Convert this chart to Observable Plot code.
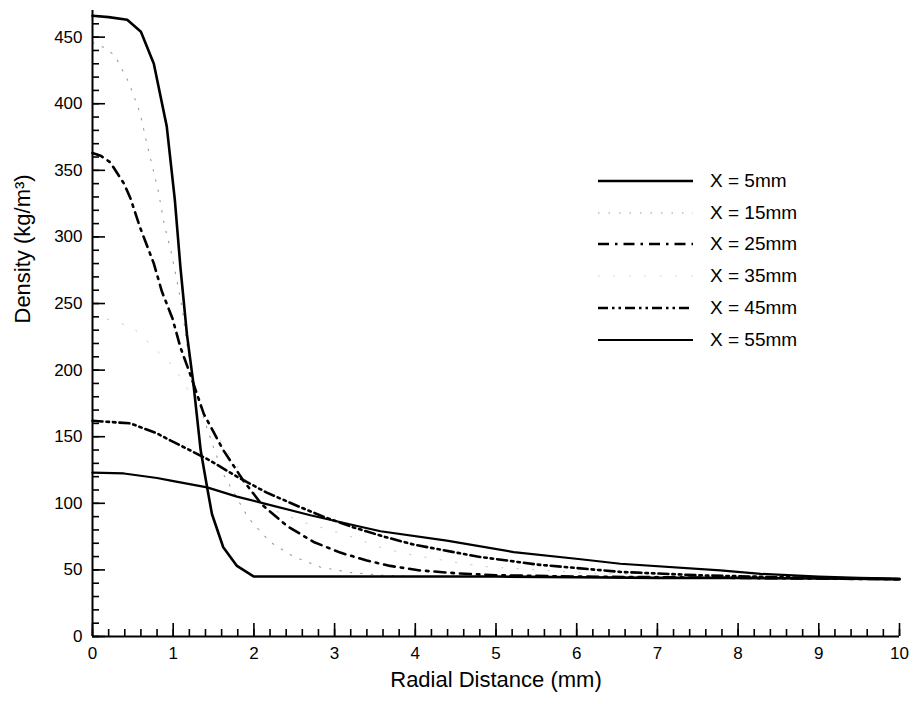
<!DOCTYPE html>
<html><head><meta charset="utf-8">
<script src="https://cdn.jsdelivr.net/npm/d3@7"></script>
<script src="https://cdn.jsdelivr.net/npm/@observablehq/plot@0.6"></script>
<style>
body{margin:0;background:#fff;}
#wrap{position:relative;width:915px;height:704px;font-family:"Liberation Sans",Arial,sans-serif;color:#000;}
</style></head><body><div id="wrap"></div>
<script>
// Series names
const seriesNames = ["X = 5mm", "X = 15mm", "X = 25mm", "X = 35mm", "X = 45mm", "X = 55mm"];

// Radial distance (mm) and density (kg/m^3) for each series
const r5  = [0, 0.2, 0.43, 0.6, 0.76, 0.92, 1.02, 1.09, 1.17, 1.25, 1.34, 1.42, 1.48, 1.62, 1.79, 2.0, 3, 4, 5, 6, 7, 8, 9, 10];
const d5  = [466, 465, 463, 454, 430, 383, 328, 277, 227, 190, 140, 112, 92, 67, 53, 45, 45, 45, 45, 44.5, 44, 44, 43.5, 43];

const r15 = [0, 0.15, 0.28, 0.45, 0.59, 0.67, 0.75, 0.82, 0.89, 0.97, 1.04, 1.11, 1.18, 1.27, 1.4, 1.5, 1.62, 1.93, 2.2, 2.49, 2.83, 3.2, 3.6, 4, 5, 6, 7, 8, 9, 10];
const d15 = [446, 442, 436, 416, 393, 371, 351, 333, 309, 290, 269, 247, 215, 185, 160, 142, 122, 89, 71, 60, 52, 48, 46, 45, 45, 44.5, 44, 44, 43.5, 43];

const r25 = [0, 0.1, 0.22, 0.39, 0.47, 0.59, 0.76, 0.86, 0.99, 1.09, 1.21, 1.38, 1.62, 1.87, 2.1, 2.41, 2.74, 3.07, 3.4, 3.69, 4.06, 4.5, 5, 6, 7, 8, 9, 10];
const d25 = [363, 361, 356, 340, 329, 307, 280, 259, 239, 217, 197, 167, 140, 117, 99, 83, 71, 63, 57, 53, 49.6, 47.5, 46, 45, 44.5, 44, 43.5, 43];

const r35 = [0, 0.5, 1.0, 1.5, 2.0, 2.16, 2.6, 3.16, 3.61, 3.98, 4.22, 4.56, 4.93, 5.26, 6, 7, 8, 9, 10];
const d35 = [242, 232, 203, 155, 108, 97, 86, 76, 66, 61, 58.6, 55, 52, 51, 48, 46, 44.5, 43.5, 43];

const r45 = [0, 0.47, 0.8, 0.97, 1.17, 1.46, 1.79, 2.16, 2.54, 2.86, 3.23, 3.61, 3.98, 4.77, 5.51, 6.54, 7.5, 8.5, 9.5, 10];
const d45 = [162, 160, 152.5, 147, 141, 132, 120, 108, 98, 90, 82, 75, 69, 60, 54, 48.5, 46, 44.5, 43.5, 43];

const r55 = [0, 0.39, 0.8, 0.97, 1.42, 1.79, 2.12, 2.7, 3.28, 3.57, 4.39, 5.22, 6.05, 6.54, 7.78, 8.28, 9, 9.5, 10];
const d55 = [123, 122.4, 119, 117, 112, 105, 100, 91, 83, 79, 72, 63.4, 58, 54.6, 49.6, 47, 45, 44, 43.5];

// Tick values
const xTicks = [0, 1, 2, 3, 4, 5, 6, 7, 8, 9, 10];
const yTicks = [0, 50, 100, 150, 200, 250, 300, 350, 400, 450];
const xMinor = d3.range(0, 10.001, 0.2);
const yMinor = d3.range(0, 461, 10);

// Styles (separate from data)
const styles = [
  {stroke: "#000", width: 2.6, dash: null},
  {stroke: "#9a9a9a", width: 1.1, dash: "1.5,9"},
  {stroke: "#000", width: 2.6, dash: "11,6,2.5,6"},
  {stroke: "#c4c4c4", width: 0.9, dash: "1.5,14"},
  {stroke: "#000", width: 2.6, dash: "10,4,2.5,4,2.5,4"},
  {stroke: "#000", width: 2.2, dash: null}
];

const rs = [r5, r15, r25, r35, r45, r55];
const ds = [d5, d15, d25, d35, d45, d55];
const rows = [];
seriesNames.forEach((name, i) => rs[i].forEach((r, j) => rows.push({series: name, r, d: ds[i][j]})));

const drawOrder = [3, 1, 2, 4, 5, 0];

const chart = Plot.plot({
  width: 915, height: 704,
  marginLeft: 92, marginRight: 16, marginTop: 10, marginBottom: 68,
  style: {fontFamily: "'Liberation Sans', Arial, sans-serif", fontSize: "17px", color: "#000", background: "#fff"},
  x: {domain: [0, 10], label: null},
  y: {domain: [0, 470], label: null},
  marks: [
    ...drawOrder.map(i => Plot.line(rows.filter(d => d.series === seriesNames[i]), {
      x: "r", y: "d", stroke: styles[i].stroke, strokeWidth: styles[i].width,
      strokeDasharray: styles[i].dash, strokeLinejoin: "round"
    })),
    Plot.axisX(xMinor, {tickSize: -7, tickFormat: () => "", strokeWidth: 1.6, label: null}),
    Plot.axisX(xTicks, {tickSize: -13, tickFormat: () => "", strokeWidth: 1.6, label: null}),
    Plot.axisX(xTicks, {tickSize: 0, tickPadding: 10, fontSize: 17, label: null}),
    Plot.axisY(yMinor, {tickSize: -7, tickFormat: () => "", strokeWidth: 1.6, label: null}),
    Plot.axisY(yTicks, {tickSize: -13, tickFormat: () => "", strokeWidth: 1.6, label: null}),
    Plot.axisY(yTicks, {tickSize: 0, tickPadding: 10, fontSize: 17, label: null}),
    Plot.ruleY([0], {strokeWidth: 2}),
    Plot.ruleX([0], {strokeWidth: 2}),
    Plot.text(["Radial Distance (mm)"], {frameAnchor: "bottom", dy: 50, fontSize: 22}),
    Plot.text(["Density (kg/m³)"], {frameAnchor: "left", dx: -70, rotate: -90, fontSize: 22})
  ]
});
document.getElementById("wrap").appendChild(chart);

// Legend
const legend = d3.select("#wrap").append("div")
  .style("position", "absolute").style("left", "598px").style("top", "165px");
seriesNames.forEach((name, i) => {
  const st = styles[i];
  const row = legend.append("div").style("display", "flex").style("align-items", "center").style("height", "31.8px");
  const svg = row.append("svg").attr("width", 96).attr("height", 20);
  svg.append("line").attr("x1", 0).attr("x2", 95).attr("y1", 10).attr("y2", 10)
    .attr("stroke", st.stroke).attr("stroke-width", st.width)
    .attr("stroke-dasharray", st.dash);
  row.append("span").style("margin-left", "16px").style("font-size", "19px").text(name);
});
</script>
</body></html>
